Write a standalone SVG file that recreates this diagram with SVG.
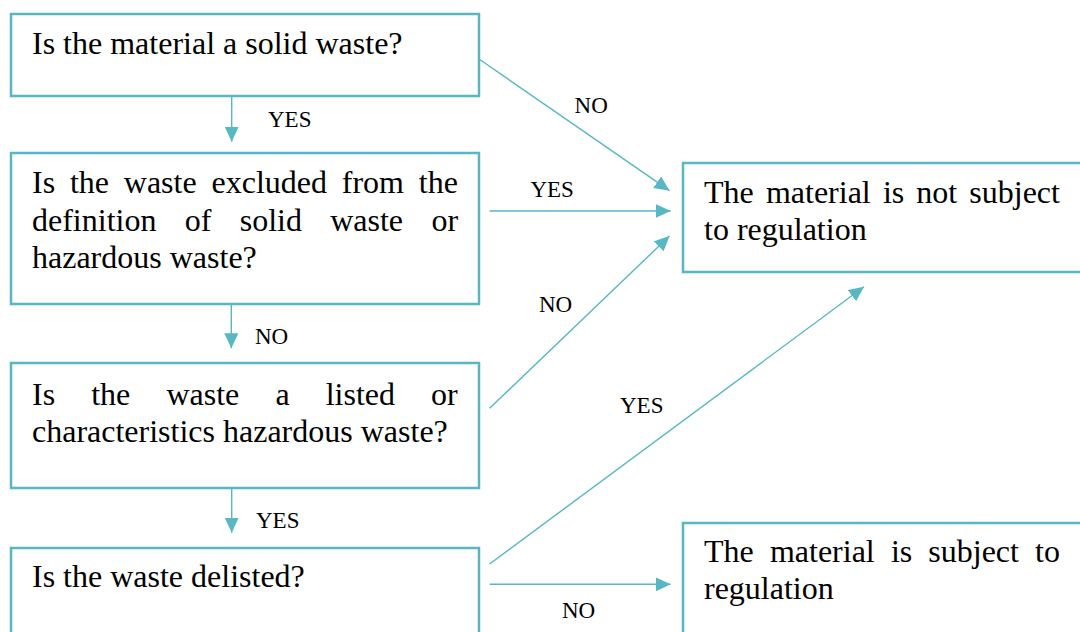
<svg xmlns="http://www.w3.org/2000/svg" width="1080" height="632" viewBox="0 0 1080 632">
<style>
.box{fill:#ffffff;stroke:#57b7c3;stroke-width:2.5}
.t{font-size:32px;fill:#000}
.l{font-size:23px;fill:#000}
.c{stroke:#57b7c3;stroke-width:1.4;fill:none;marker-end:url(#ah)}
</style>
<defs>
<marker id="ah" markerUnits="userSpaceOnUse" markerWidth="16" markerHeight="15" refX="15" refY="7" orient="auto">
<path d="M0,0 L15,7 L0,14 z" fill="#57b7c3"/>
</marker>
</defs>
<rect width="1080" height="632" fill="#ffffff"/>
<g font-family="'Liberation Serif', 'DejaVu Serif', serif">
<g id="q1">
<rect class="box" x="11" y="14" width="468" height="82"/>
<text class="t" x="32" y="54">Is the material a solid waste?</text>
</g>
<g id="q2">
<rect class="box" x="11" y="153" width="468" height="151"/>
<text class="t" y="193"><tspan x="32">Is</tspan><tspan x="69.9">the</tspan><tspan x="123.8">waste</tspan><tspan x="211.5">excluded</tspan><tspan x="341.8">from</tspan><tspan x="418.8">the</tspan></text>
<text class="t" y="230.5"><tspan x="32">definition</tspan><tspan x="184.7">of</tspan><tspan x="239.7">solid</tspan><tspan x="330.2">waste</tspan><tspan x="431.4">or</tspan></text>
<text class="t" x="32" y="267.5">hazardous waste?</text>
</g>
<g id="q3">
<rect class="box" x="11" y="363" width="468" height="125"/>
<text class="t" y="405"><tspan x="32">Is</tspan><tspan x="91.2">the</tspan><tspan x="166.4">waste</tspan><tspan x="275.4">a</tspan><tspan x="325.7">listed</tspan><tspan x="431.1">or</tspan></text>
<text class="t" x="32" y="442">characteristics hazardous waste?</text>
</g>
<g id="q4">
<rect class="box" x="11" y="548" width="468" height="110"/>
<text class="t" x="32" y="587">Is the waste delisted?</text>
</g>
<g id="r1">
<rect class="box" x="683" y="163" width="410" height="109"/>
<text class="t" y="203"><tspan x="704">The</tspan><tspan x="765.9">material</tspan><tspan x="882.9">is</tspan><tspan x="916.3">not</tspan><tspan x="969.3">subject</tspan></text>
<text class="t" x="704" y="240">to regulation</text>
</g>
<g id="r2">
<rect class="box" x="683" y="523" width="410" height="130"/>
<text class="t" y="562"><tspan x="704">The</tspan><tspan x="769.9">material</tspan><tspan x="890.9">is</tspan><tspan x="928.3">subject</tspan><tspan x="1035.1">to</tspan></text>
<text class="t" x="704" y="599">regulation</text>
</g>
<g id="connectors">
<line class="c" x1="231.7" y1="97" x2="231.7" y2="141.7"/>
<line class="c" x1="231.3" y1="305" x2="231.3" y2="348.3"/>
<line class="c" x1="231.7" y1="489" x2="231.7" y2="532.7"/>
<line class="c" x1="479" y1="59" x2="669.5" y2="190.7"/>
<line class="c" x1="489.6" y1="211" x2="670.7" y2="211"/>
<line class="c" x1="489.6" y1="408.3" x2="669.5" y2="236"/>
<line class="c" x1="489.6" y1="564" x2="864" y2="286.7"/>
<line class="c" x1="489.6" y1="584.3" x2="670.7" y2="584.3"/>
</g>
<g id="labels">
<text class="l" x="268" y="127">YES</text>
<text class="l" x="574.6" y="113">NO</text>
<text class="l" x="530.4" y="197">YES</text>
<text class="l" x="539" y="312">NO</text>
<text class="l" x="255" y="344">NO</text>
<text class="l" x="256" y="528.3">YES</text>
<text class="l" x="620" y="413.3">YES</text>
<text class="l" x="562" y="618.3">NO</text>
</g>
</g>
</svg>
